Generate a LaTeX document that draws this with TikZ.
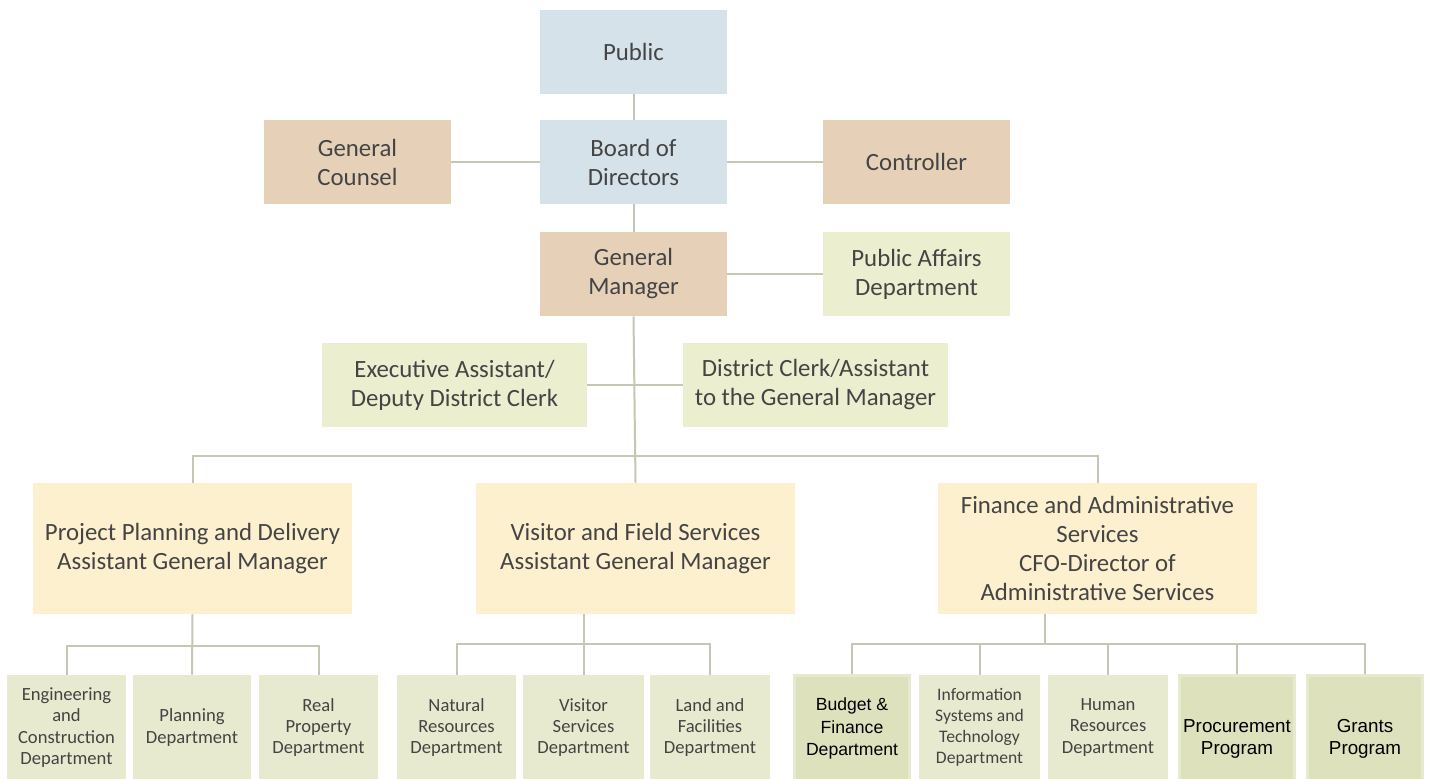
\documentclass[tikz,border=0pt]{standalone}
\usepackage{fontspec}
\setmainfont{Carlito}
\newfontfamily\arialf{Liberation Sans}
\definecolor{cblue}{HTML}{D6E2EA}
\definecolor{ctan}{HTML}{E6D1B8}
\definecolor{cgreen}{HTML}{ECEED0}
\definecolor{cyellow}{HTML}{FDF0CF}
\definecolor{cbot}{HTML}{E8EACF}
\definecolor{cbotd}{HTML}{DDE1BC}
\definecolor{cbotl}{HTML}{E7EACF}
\definecolor{lnc}{HTML}{C4C7B4}
\definecolor{txt}{HTML}{444444}
\tikzset{
  bx/.style={rectangle, inner sep=0pt, align=center, text=txt,
    font=\fontsize{12.4}{14.5}\selectfont},
  topbox/.style={bx, minimum width=93.5pt, minimum height=42pt},
  midbox/.style={bx, fill=cgreen, minimum width=132.5pt, minimum height=42pt},
  agmbox/.style={bx, fill=cyellow, minimum width=159.5pt, minimum height=65.5pt},
  botbox/.style={bx, fill=cbot, minimum height=52.5pt,
    font=\fontsize{9.3}{10.6}\selectfont},
  arbox/.style={botbox, fill=cbotd, draw=cbotl, line width=1.5pt, text=black,
    font=\arialf\fontsize{8.8}{11.2}\selectfont},
  arboxl/.style={arbox, font=\arialf\fontsize{9.4}{11.4}\selectfont},
  ln/.style={draw=lnc, line width=1pt}
}
\begin{document}
\begin{tikzpicture}[x=0.5pt, y=-0.5pt]
\useasboundingbox (0,0) rectangle (1429,779);
\fill[white] (0,0) rectangle (1429,779);

% top levels
\node[topbox, fill=cblue] (pub) at (633.5,52) {Public};
\node[topbox, fill=cblue] (bod) at (633.5,162) {Board of\\Directors};
\node[topbox, fill=ctan] (gc) at (357.5,162) {General\\Counsel};
\node[topbox, fill=ctan] (ctl) at (916.5,162) {Controller};
\node[topbox, fill=ctan] (gm) at (633.5,274) {General\\Manager};
\node[topbox, fill=cgreen] (pa) at (916.5,274) {Public Affairs\\Department};

\node[midbox] (ea) at (454.5,385) {Executive Assistant/\\Deputy District Clerk};
\node[midbox] (dc) at (815.5,385) {District Clerk/Assistant\\to the General Manager};

\node[agmbox] (pp) at (192.5,548.5) {Project Planning and Delivery\\Assistant General Manager};
\node[agmbox] (vf) at (635.5,548.5) {Visitor and Field Services\\Assistant General Manager};
\node[agmbox] (fa) at (1097.5,548.5) {Finance and Administrative\\Services\\CFO-Director of\\Administrative Services};

% bottom row
\node[botbox, minimum width=59.5pt] (eng) at (66.5,727.5) {Engineering\\and\\Construction\\Department};
\node[botbox, minimum width=59pt] (pln) at (192,727.5) {Planning\\Department};
\node[botbox, minimum width=59.5pt] (rp) at (318.5,727.5) {Real\\Property\\Department};
\node[botbox, minimum width=59.5pt] (nr) at (456.5,727.5) {Natural\\Resources\\Department};
\node[botbox, minimum width=60.5pt] (vs) at (583.5,727.5) {Visitor\\Services\\Department};
\node[botbox, minimum width=60pt] (lf) at (710,727.5) {Land and\\Facilities\\Department};
\node[arbox, minimum width=57.5pt] (bf) at (852,728.5) {Budget \&\\Finance\\Department};
\node[botbox, minimum width=60.5pt, font=\fontsize{8.8}{10.6}\selectfont] (ist) at (979.5,727.5) {Information\\Systems and\\Technology\\Department};
\node[botbox, minimum width=60pt] (hr) at (1108,727.5) {Human\\Resources\\Department};
\node[arboxl, minimum width=57.5pt] (pr) at (1237,728.5) {\rule{0pt}{17pt}Procurement\\Program};
\node[arboxl, minimum width=57.5pt] (gr) at (1365,728.5) {\rule{0pt}{17pt}Grants\\Program};

% connectors
\draw[ln] (pub) -- (bod);
\draw[ln] (gc) -- (bod);
\draw[ln] (bod) -- (ctl);
\draw[ln] (bod) -- (gm);
\draw[ln] (gm) -- (pa);
\draw[ln] (ea) -- (dc);
\coordinate (bus) at (635,456);
\draw[ln] (gm.south) -- (vf.north);
\draw[ln] (pp.north) |- (bus) -| (fa.north);

% PP children
\draw[ln] (pp.south) -- (pln.north);
\draw[ln] (eng.north) -- ++(0,-29) -| (rp.north);

% VF children
\draw[ln] (vf.south -| vs.north) -- (vs.north);
\draw[ln] (nr.north) -- ++(0,-31) -| (lf.north);

% FA children
\coordinate (fab) at (1045,644);
\draw[ln] (fa.south -| fab) -- (fab);
\draw[ln] (bf.north) -- ++(0,-30) -| (gr.north);
\draw[ln] (ist.north) -- (ist.north |- fab);
\draw[ln] (hr.north) -- (hr.north |- fab);
\draw[ln] (pr.north) -- (pr.north |- fab);
\end{tikzpicture}
\end{document}
